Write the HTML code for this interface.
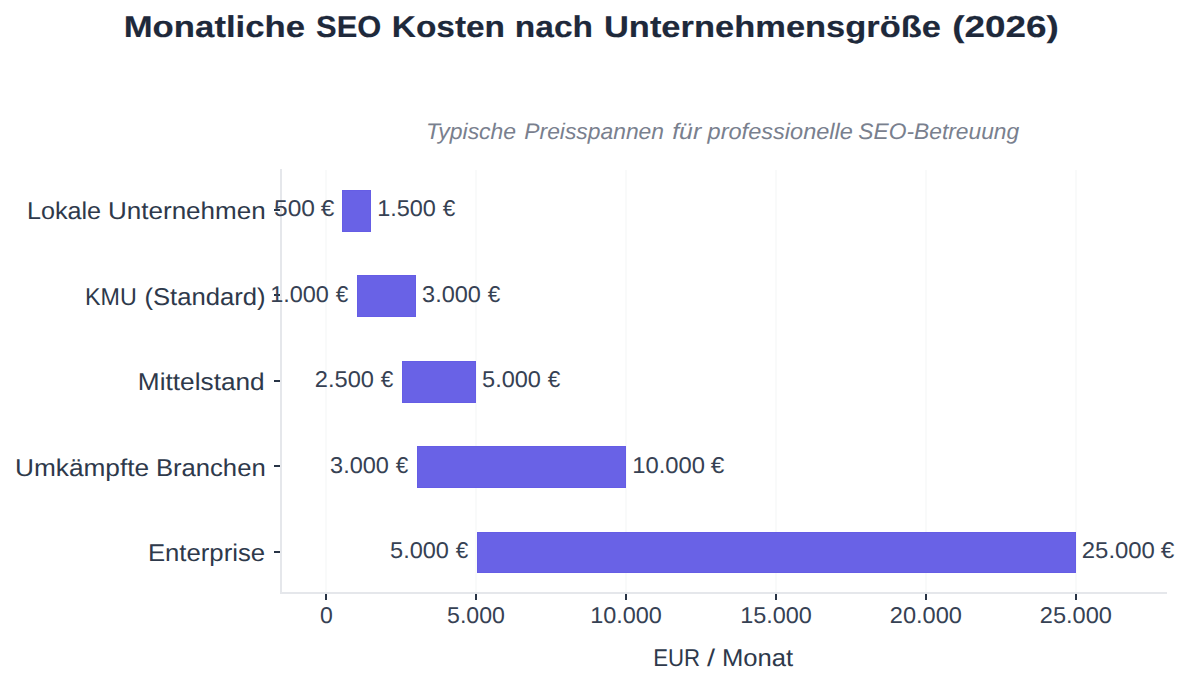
<!DOCTYPE html>
<html><head><meta charset="utf-8"><style>
html,body{margin:0;padding:0;background:#fff;overflow:hidden;}
svg{display:block;}
text{font-family:"Liberation Sans", sans-serif;text-rendering:geometricPrecision;}
</style></head><body>
<svg width="1190" height="686" viewBox="0 0 1190 686">
<rect width="1190" height="686" fill="#ffffff"/>
<rect x="325.0" y="170" width="2" height="422" fill="#f9fafa"/>
<rect x="475.0" y="170" width="2" height="422" fill="#f9fafa"/>
<rect x="625.0" y="170" width="2" height="422" fill="#f9fafa"/>
<rect x="775.0" y="170" width="2" height="422" fill="#f9fafa"/>
<rect x="925.0" y="170" width="2" height="422" fill="#f9fafa"/>
<rect x="1075.0" y="170" width="2" height="422" fill="#f9fafa"/>
<rect x="342" y="190" width="29" height="42" fill="#6962e6"/>
<rect x="342.5" y="190.5" width="28" height="41" fill="none" stroke="#655de5" stroke-width="1"/>
<rect x="357" y="275" width="59" height="42" fill="#6962e6"/>
<rect x="357.5" y="275.5" width="58" height="41" fill="none" stroke="#655de5" stroke-width="1"/>
<rect x="402" y="361" width="74" height="42" fill="#6962e6"/>
<rect x="402.5" y="361.5" width="73" height="41" fill="none" stroke="#655de5" stroke-width="1"/>
<rect x="417" y="446" width="209" height="42" fill="#6962e6"/>
<rect x="417.5" y="446.5" width="208" height="41" fill="none" stroke="#655de5" stroke-width="1"/>
<rect x="477" y="532" width="599" height="41" fill="#6962e6"/>
<rect x="477.5" y="532.5" width="598" height="40" fill="none" stroke="#655de5" stroke-width="1"/>
<rect x="280" y="169" width="2" height="425" fill="#e5e7eb"/>
<rect x="280" y="592" width="887" height="2" fill="#e5e7eb"/>
<rect x="274" y="209" width="6" height="2" fill="#283446"/>
<rect x="274" y="294" width="6" height="2" fill="#283446"/>
<rect x="274" y="380" width="6" height="2" fill="#283446"/>
<rect x="274" y="465" width="6" height="2" fill="#283446"/>
<rect x="274" y="551" width="6" height="2" fill="#283446"/>
<rect x="325.0" y="594" width="2" height="6" fill="#283446"/>
<rect x="475.0" y="594" width="2" height="6" fill="#283446"/>
<rect x="625.0" y="594" width="2" height="6" fill="#283446"/>
<rect x="775.0" y="594" width="2" height="6" fill="#283446"/>
<rect x="925.0" y="594" width="2" height="6" fill="#283446"/>
<rect x="1075.0" y="594" width="2" height="6" fill="#283446"/>
<text transform="translate(123.68,37) scale(1.1508,1.0000)" font-size="30.2" font-weight="bold" font-style="normal" fill="#1e293b" stroke="#1e293b" stroke-width="0.15">Monatliche</text>
<text transform="translate(316.11,37) scale(1.0221,1.0000)" font-size="30.2" font-weight="bold" font-style="normal" fill="#1e293b" stroke="#1e293b" stroke-width="0.15">SEO</text>
<text transform="translate(391.76,37) scale(1.1071,1.0000)" font-size="30.2" font-weight="bold" font-style="normal" fill="#1e293b" stroke="#1e293b" stroke-width="0.15">Kosten</text>
<text transform="translate(514.79,37) scale(1.1107,1.0000)" font-size="30.2" font-weight="bold" font-style="normal" fill="#1e293b" stroke="#1e293b" stroke-width="0.15">nach</text>
<text transform="translate(603.93,37) scale(1.1419,1.0000)" font-size="30.2" font-weight="bold" font-style="normal" fill="#1e293b" stroke="#1e293b" stroke-width="0.15">Unternehmensgröße</text>
<text transform="translate(952.16,37) scale(1.2220,1.0000)" font-size="30.2" font-weight="bold" font-style="normal" fill="#1e293b" stroke="#1e293b" stroke-width="0.15">(2026)</text>
<text transform="translate(425.94,139) scale(1.0209,1.0000)" font-size="22.5" font-weight="normal" font-style="italic" fill="#79808e">Typische</text>
<text transform="translate(524.30,139) scale(1.0156,1.0000)" font-size="22.5" font-weight="normal" font-style="italic" fill="#79808e">Preisspannen</text>
<text transform="translate(672.16,139) scale(1.1045,1.0000)" font-size="22.5" font-weight="normal" font-style="italic" fill="#79808e">für</text>
<text transform="translate(707.59,139) scale(1.0465,1.0000)" font-size="22.5" font-weight="normal" font-style="italic" fill="#79808e">professionelle</text>
<text transform="translate(858.35,139) scale(1.0126,1.0000)" font-size="22.5" font-weight="normal" font-style="italic" fill="#79808e">SEO-Betreuung</text>
<text transform="translate(26.93,219) scale(1.0360,1.0000)" font-size="24.3" font-weight="normal" font-style="normal" fill="#2e394b">Lokale</text>
<text transform="translate(107.99,219) scale(1.0711,1.0000)" font-size="24.3" font-weight="normal" font-style="normal" fill="#2e394b">Unternehmen</text>
<text transform="translate(85.09,305) scale(0.9575,1.0000)" font-size="24.3" font-weight="normal" font-style="normal" fill="#2e394b">KMU</text>
<text transform="translate(144.41,305) scale(1.0555,1.0000)" font-size="24.3" font-weight="normal" font-style="normal" fill="#2e394b">(Standard)</text>
<text transform="translate(137.85,390) scale(1.0795,1.0000)" font-size="24.3" font-weight="normal" font-style="normal" fill="#2e394b">Mittelstand</text>
<text transform="translate(14.97,476) scale(1.0802,1.0000)" font-size="24.3" font-weight="normal" font-style="normal" fill="#2e394b">Umkämpfte</text>
<text transform="translate(155.90,476) scale(1.0552,1.0000)" font-size="24.3" font-weight="normal" font-style="normal" fill="#2e394b">Branchen</text>
<text transform="translate(147.89,561) scale(1.0587,1.0000)" font-size="24.3" font-weight="normal" font-style="normal" fill="#2e394b">Enterprise</text>
<text transform="translate(274.02,216) scale(1.0715,1.0000)" font-size="22.9" font-weight="normal" font-style="normal" fill="#364153">500</text>
<text transform="translate(320.81,216) scale(1.0627,1.0000)" font-size="22.9" font-weight="normal" font-style="normal" fill="#364153">€</text>
<text transform="translate(377.21,216) scale(1.0244,1.0000)" font-size="22.9" font-weight="normal" font-style="normal" fill="#364153">1.500</text>
<text transform="translate(442.82,216) scale(0.9810,1.0000)" font-size="22.9" font-weight="normal" font-style="normal" fill="#364153">€</text>
<text transform="translate(270.21,302) scale(1.0244,1.0000)" font-size="22.9" font-weight="normal" font-style="normal" fill="#364153">1.000</text>
<text transform="translate(335.82,302) scale(0.9810,1.0000)" font-size="22.9" font-weight="normal" font-style="normal" fill="#364153">€</text>
<text transform="translate(422.10,302) scale(1.0263,1.0000)" font-size="22.9" font-weight="normal" font-style="normal" fill="#364153">3.000</text>
<text transform="translate(487.82,302) scale(0.9810,1.0000)" font-size="22.9" font-weight="normal" font-style="normal" fill="#364153">€</text>
<text transform="translate(314.81,387) scale(1.0315,1.0000)" font-size="22.9" font-weight="normal" font-style="normal" fill="#364153">2.500</text>
<text transform="translate(380.82,387) scale(0.9810,1.0000)" font-size="22.9" font-weight="normal" font-style="normal" fill="#364153">€</text>
<text transform="translate(482.06,387) scale(1.0271,1.0000)" font-size="22.9" font-weight="normal" font-style="normal" fill="#364153">5.000</text>
<text transform="translate(547.82,387) scale(0.9810,1.0000)" font-size="22.9" font-weight="normal" font-style="normal" fill="#364153">€</text>
<text transform="translate(330.10,473) scale(1.0263,1.0000)" font-size="22.9" font-weight="normal" font-style="normal" fill="#364153">3.000</text>
<text transform="translate(395.82,473) scale(0.9810,1.0000)" font-size="22.9" font-weight="normal" font-style="normal" fill="#364153">€</text>
<text transform="translate(632.19,473) scale(1.0385,1.0000)" font-size="22.9" font-weight="normal" font-style="normal" fill="#364153">10.000</text>
<text transform="translate(710.81,473) scale(1.0627,1.0000)" font-size="22.9" font-weight="normal" font-style="normal" fill="#364153">€</text>
<text transform="translate(390.06,558) scale(1.0271,1.0000)" font-size="22.9" font-weight="normal" font-style="normal" fill="#364153">5.000</text>
<text transform="translate(455.82,558) scale(0.9810,1.0000)" font-size="22.9" font-weight="normal" font-style="normal" fill="#364153">€</text>
<text transform="translate(1081.80,558) scale(1.0442,1.0000)" font-size="22.9" font-weight="normal" font-style="normal" fill="#364153">25.000</text>
<text transform="translate(1160.81,558) scale(1.0627,1.0000)" font-size="22.9" font-weight="normal" font-style="normal" fill="#364153">€</text>
<text transform="translate(320.10,623) scale(1.0049,1.0000)" font-size="22.9" font-weight="normal" font-style="normal" fill="#364153">0</text>
<text transform="translate(447.07,623) scale(1.0091,1.0000)" font-size="22.9" font-weight="normal" font-style="normal" fill="#364153">5.000</text>
<text transform="translate(590.21,623) scale(1.0237,1.0000)" font-size="22.9" font-weight="normal" font-style="normal" fill="#364153">10.000</text>
<text transform="translate(740.21,623) scale(1.0237,1.0000)" font-size="22.9" font-weight="normal" font-style="normal" fill="#364153">15.000</text>
<text transform="translate(889.81,623) scale(1.0295,1.0000)" font-size="22.9" font-weight="normal" font-style="normal" fill="#364153">20.000</text>
<text transform="translate(1039.81,623) scale(1.0295,1.0000)" font-size="22.9" font-weight="normal" font-style="normal" fill="#364153">25.000</text>
<text transform="translate(653.18,666) scale(0.9132,1.0000)" font-size="24.3" font-weight="normal" font-style="normal" fill="#2e394b">EUR</text>
<text transform="translate(707.00,666) scale(1.1850,1.0000)" font-size="24.3" font-weight="normal" font-style="normal" fill="#2e394b">/</text>
<text transform="translate(721.90,666) scale(1.0556,1.0000)" font-size="24.3" font-weight="normal" font-style="normal" fill="#2e394b">Monat</text>
</svg>
</body></html>
